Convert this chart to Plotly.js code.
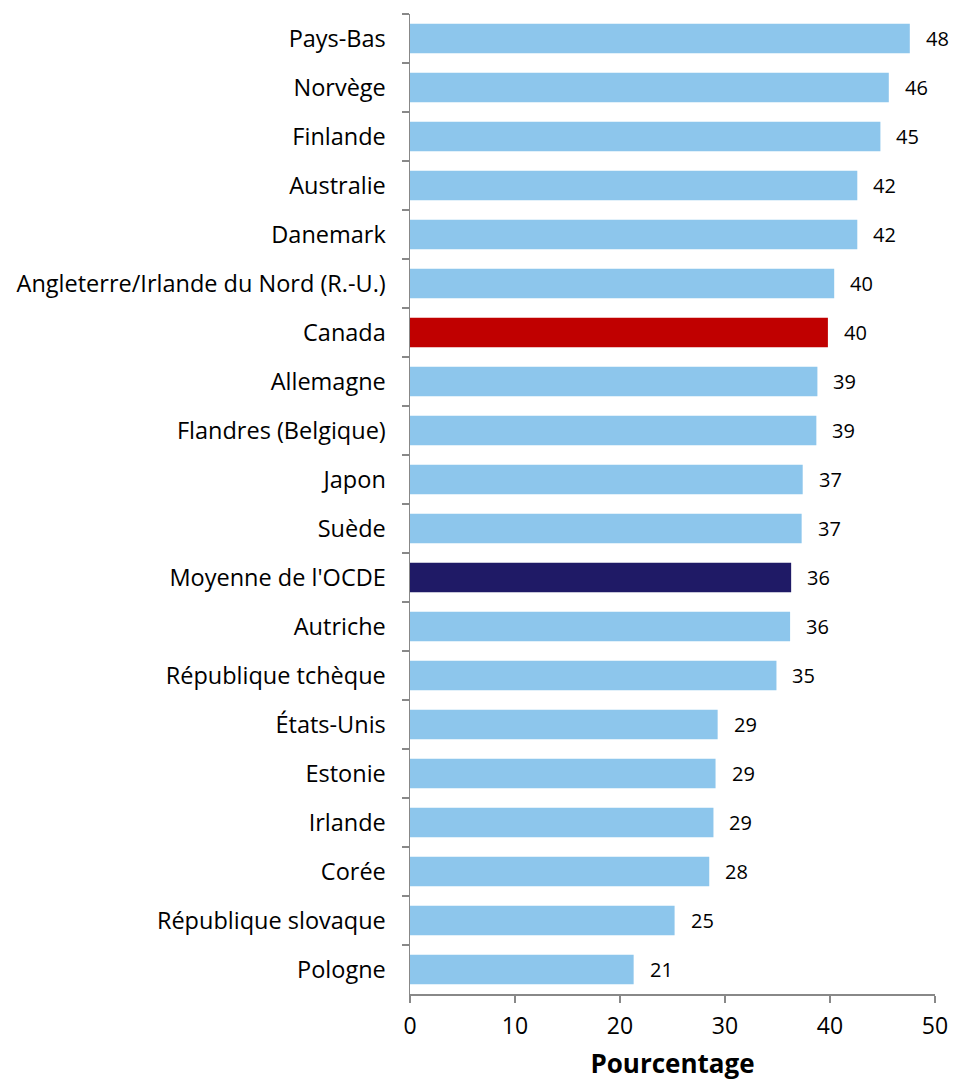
<!DOCTYPE html>
<html>
<head>
<meta charset="utf-8">
<script src="https://cdn.plot.ly/plotly-3.0.1.min.js"></script>
<style>
  body { margin: 0; background: #fff; }
  #chart { width: 956px; height: 1081px; }
</style>
</head>
<body>
<div id="chart"></div>
<script>
// pays, du haut vers le bas
const countries = [
  'Pays-Bas', 'Norvège', 'Finlande', 'Australie', 'Danemark',
  'Angleterre/Irlande du Nord (R.-U.)', 'Canada', 'Allemagne',
  'Flandres (Belgique)', 'Japon', 'Suède', "Moyenne de l'OCDE",
  'Autriche', 'République tchèque', 'États-Unis', 'Estonie',
  'Irlande', 'Corée', 'République slovaque', 'Pologne'
];
// longueur des barres (valeurs non arrondies)
const values = [
  47.6, 45.6, 44.8, 42.6, 42.6, 40.4, 39.8, 38.8, 38.7, 37.4,
  37.3, 36.3, 36.2, 34.9, 29.3, 29.1, 28.9, 28.5, 25.2, 21.3
];
// étiquettes affichées
const labels = [
  '48', '46', '45', '42', '42', '40', '40', '39', '39', '37',
  '37', '36', '36', '35', '29', '29', '29', '28', '25', '21'
];

const BLUE = '#8DC6EC';
const colors = countries.map(c => {
  if (c === 'Canada') return '#C00000';
  if (c === "Moyenne de l'OCDE") return '#1F1A66';
  return BLUE;
});

const FONT = '"Open Sans", Lato, sans-serif';

const trace = {
  type: 'bar',
  orientation: 'h',
  x: values,
  y: countries,
  marker: { color: colors },
  hoverinfo: 'x+y'
};

const annotations = countries.map((c, i) => ({
  x: values[i],
  y: c,
  text: labels[i],
  showarrow: false,
  xanchor: 'left',
  xshift: 14,
  yshift: 0,
  font: { family: FONT, size: 20, color: '#000' }
}));

const layout = {
  width: 956,
  height: 1081,
  margin: { l: 410, r: 21, t: 14, b: 87 },
  paper_bgcolor: '#fff',
  plot_bgcolor: '#fff',
  showlegend: false,
  bargap: 0.4,
  font: { family: FONT, size: 21, color: '#000' },
  xaxis: {
    range: [0, 50],
    dtick: 10,
    showgrid: false,
    zeroline: false,
    showline: true,
    linecolor: '#888',
    linewidth: 1.5,
    ticks: 'outside',
    ticklen: 7,
    tickcolor: '#888',
    tickwidth: 1.5,
    ticklabelstandoff: 4,
    tickfont: { family: FONT, size: 23, color: '#000' },
    title: { text: '<b>Pourcentage</b>', font: { family: FONT, size: 26, color: '#000' }, standoff: 27 }
  },
  yaxis: {
    autorange: 'reversed',
    showgrid: false,
    zeroline: false,
    showline: true,
    linecolor: '#888',
    linewidth: 1.5,
    ticks: 'outside',
    tickson: 'boundaries',
    ticklen: 7,
    tickcolor: '#888',
    tickwidth: 1.5,
    ticklabelstandoff: 18,
    tickfont: { family: FONT, size: 23.5, color: '#000' }
  },
  annotations: annotations
};

Plotly.newPlot('chart', [trace], layout, { displayModeBar: false, staticPlot: true });
</script>
</body>
</html>
